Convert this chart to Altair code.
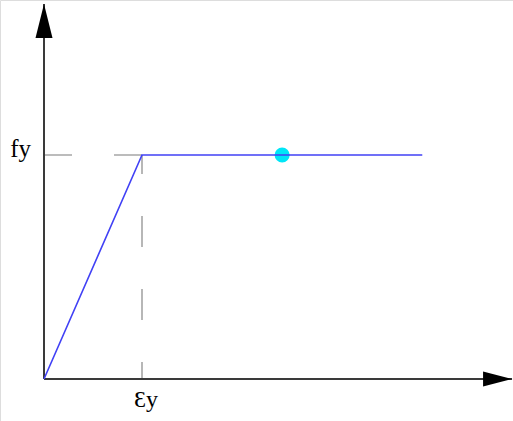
import altair as alt
import pandas as pd

# Idealised elastic-perfectly-plastic stress-strain curve (normalised: εy = 1, fy = 1)
curve_strain = [0.0, 1.0, 3.86]
curve_stress = [0.0, 1.0, 1.0]

# Marker on the yield plateau
marker_strain = [2.43]
marker_stress = [1.0]

# Yield values and their labels
yield_strain = 1.0
yield_stress = 1.0
label_strain = "Ɛy"
label_stress = "fy"

# Extent of the drawn axes (arrow tips)
x_axis_end = 4.776
y_axis_end = 1.674

W, H = 513, 421
x_scale = alt.Scale(domain=[-0.44898, 4.7857], nice=False, zero=False)
y_scale = alt.Scale(domain=[-0.1875, 1.69196], nice=False, zero=False)

curve = pd.DataFrame({"strain": curve_strain, "stress": curve_stress})
marker = pd.DataFrame({"strain": marker_strain, "stress": marker_stress})
hguide = pd.DataFrame({"x": [0.0], "x2": [yield_strain], "y": [yield_stress]})
vguide = pd.DataFrame({"x": [yield_strain], "y": [0.0], "y2": [yield_stress]})
xaxis = pd.DataFrame({"x": [0.0], "x2": [x_axis_end], "y": [0.0]})
yaxis = pd.DataFrame({"x": [0.0], "y": [0.0], "y2": [y_axis_end]})
xtip = pd.DataFrame({"x": [x_axis_end], "y": [0.0]})
ytip = pd.DataFrame({"x": [0.0], "y": [y_axis_end]})
xlabel = pd.DataFrame({"x": [yield_strain], "y": [0.0], "t": [label_strain]})
ylabel = pd.DataFrame({"x": [0.0], "y": [yield_stress], "t": [label_stress]})

X = lambda f: alt.X(f, type="quantitative", scale=x_scale, axis=None)
Y = lambda f: alt.Y(f, type="quantitative", scale=y_scale, axis=None)

dash = [31, 42]
guide_color = "#a6a6a6"

h_dash = alt.Chart(hguide).mark_rule(
    color=guide_color, strokeWidth=1.6, strokeDash=dash, strokeDashOffset=3
).encode(x=X("x"), x2="x2", y=Y("y"))

v_dash = alt.Chart(vguide).mark_rule(
    color=guide_color, strokeWidth=1.6, strokeDash=dash, strokeDashOffset=14
).encode(x=X("x"), y=Y("y"), y2="y2")

axis_color = "#3a3a3a"
x_line = alt.Chart(xaxis).mark_rule(color=axis_color, strokeWidth=2).encode(
    x=X("x"), x2="x2", y=Y("y")
)
y_line = alt.Chart(yaxis).mark_rule(color=axis_color, strokeWidth=2).encode(
    x=X("x"), y=Y("y"), y2="y2"
)

# Arrowheads anchored at their tips
x_arrow = alt.Chart(xtip).mark_point(
    shape="M0,0 L-2,-0.52 L-2,0.52 Z", size=841, filled=True, color="black", opacity=1
).encode(x=X("x"), y=Y("y"))
y_arrow = alt.Chart(ytip).mark_point(
    shape="M0,0 L0.5,2 L-0.5,2 Z", size=1156, filled=True, color="black", opacity=1
).encode(x=X("x"), y=Y("y"))

dot = alt.Chart(marker).mark_circle(size=227, color="#00e6f7", opacity=1).encode(
    x=X("strain"), y=Y("stress")
)

line = alt.Chart(curve).mark_line(color="#4141f5", strokeWidth=1.6).encode(
    x=X("strain"), y=Y("stress"), order=alt.Order("strain:Q")
)

font = "Liberation Serif"
x_text = alt.Chart(xlabel).mark_text(
    font=font, fontSize=24, align="center", baseline="alphabetic", dx=4, dy=28, color="black"
).encode(x=X("x"), y=Y("y"), text="t:N")
y_text = alt.Chart(ylabel).mark_text(
    font=font, fontSize=25, align="right", baseline="alphabetic", dx=-13, dy=2, color="black"
).encode(x=X("x"), y=Y("y"), text="t:N")

chart = alt.layer(
    h_dash, v_dash, x_line, y_line, dot, line, x_arrow, y_arrow, x_text, y_text
).properties(
    width=W, height=H, padding=0, autosize=alt.AutoSizeParams(type="none")
).configure_view(stroke=None).configure(background="white")

chart.save("out.html", embed_options={"renderer": "svg", "actions": False})
